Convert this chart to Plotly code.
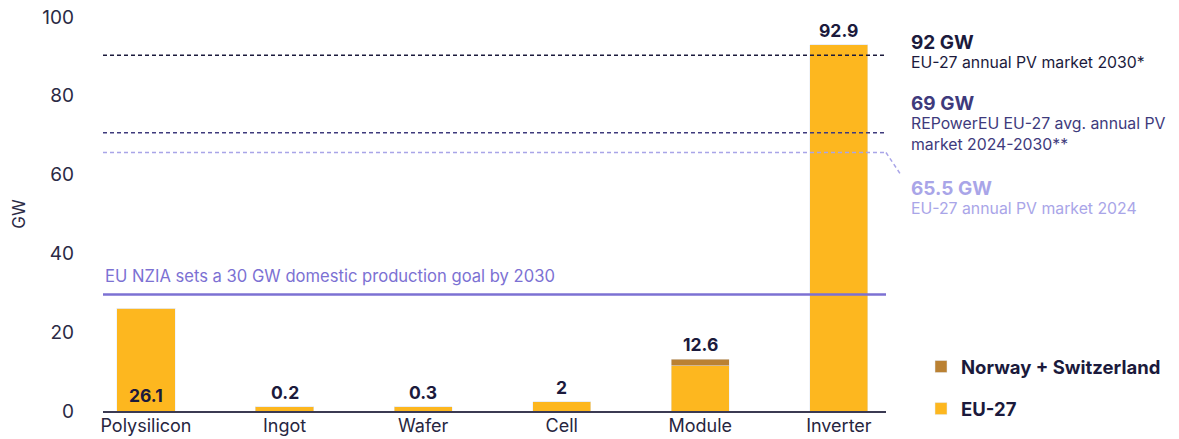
import plotly.graph_objects as go

# ---------------- data ----------------
categories = ["Polysilicon", "Ingot", "Wafer", "Cell", "Module", "Inverter"]
eu27 = [26.1, 1.1, 1.1, 2.4, 11.5, 92.9]          # bar heights as drawn
norway_switzerland = [0, 0, 0, 0, 1.6, 0]
value_labels = ["26.1", "0.2", "0.3", "2", "12.6", "92.9"]

ref_values = [90.3, 70.6, 65.6]                    # dashed reference lines (as drawn)
ref_titles = ["92 GW", "69 GW", "65.5 GW"]
ref_subtitles = ["EU-27 annual PV market 2030*",
                 "REPowerEU EU-27 avg. annual PV<br>market 2024-2030**",
                 "EU-27 annual PV market 2024"]
ref_colors = ["#1b1a3c", "#3e3a7c", "#a9a5e8"]

nzia_value = 29.6
nzia_label = "EU NZIA sets a 30 GW domestic production goal by 2030"

y_ticks = [0, 20, 40, 60, 80, 100]

# ---------------- styling ----------------
FONT = "Inter"
DARK = "#1b1a3c"
YELLOW = "#fdb71f"
BROWN = "#ba8133"
PURPLE = "#7c71d3"

OFF = 0  # page body margin removed via post_script
W, H = 1179 - OFF, 439 - OFF
L, T = 103 - OFF, 17 - OFF
R = W - (886 - OFF)
B = H - (411 - OFF)
pw, ph = W - L - R, H - T - B


def px_x(px):
    return (px - OFF - L) / pw


def px_y(py):
    return (H - B - (py - OFF)) / ph


fig = go.Figure()
fig.add_trace(go.Bar(x=categories, y=eu27, name="EU-27", marker_color=YELLOW,
                     width=0.42, legendgroup="eu", legendrank=2, hoverinfo="skip"))
fig.add_trace(go.Bar(x=categories, y=norway_switzerland, name="Norway + Switzerland",
                     marker_color=BROWN, width=0.42, legendgroup="no", legendrank=1,
                     hoverinfo="skip"))

# value labels
totals = [a + b for a, b in zip(eu27, norway_switzerland)]
for cat, tot, lab in zip(categories, totals, value_labels):
    inside = 20 < tot < 50
    fig.add_annotation(x=cat, y=0 if inside else tot, xref="x", yref="y",
                       text=f"<b>{lab}</b>", showarrow=False,
                       yanchor="bottom", yshift=3 if inside else 2,
                       font=dict(family=FONT, size=17.5, color=DARK))

# NZIA line
fig.add_shape(type="line", xref="paper", yref="y", x0=0, x1=1,
              y0=nzia_value, y1=nzia_value, line=dict(color=PURPLE, width=2.5))
fig.add_annotation(x=0, y=nzia_value, xref="paper", yref="y", text=nzia_label,
                   showarrow=False, xanchor="left", yanchor="bottom", yshift=6,
                   font=dict(family=FONT, size=16.6, color=PURPLE))

# dashed reference lines + right-hand labels
title_px = [42, 103, 188]
for v, t, s, c, ty in zip(ref_values, ref_titles, ref_subtitles, ref_colors, title_px):
    fig.add_shape(type="line", xref="paper", yref="y", x0=0, x1=1, y0=v, y1=v,
                  line=dict(color=c, width=1.5, dash="4px,3px"))
    fig.add_annotation(x=px_x(909), y=px_y(ty), xref="paper", yref="paper",
                       text=f"<b>{t}</b>", showarrow=False, xanchor="left",
                       yanchor="middle", font=dict(family=FONT, size=19, color=c))
    fig.add_annotation(x=px_x(909), y=px_y(ty + 9), xref="paper", yref="paper",
                       text=s, showarrow=False, xanchor="left", yanchor="top",
                       align="left", font=dict(family=FONT, size=15.8, color=c))

# elbow connector for the 65.5 GW line
v = ref_values[2]
fig.add_shape(type="line", xref="paper", yref="paper",
              x0=1, y0=v / 100, x1=px_x(901), y1=px_y(175),
              line=dict(color=ref_colors[2], width=1.5, dash="4px,3px"))

fig.update_layout(
    width=W, height=H,
    margin=dict(l=L, r=R, t=T, b=B, autoexpand=False),
    barmode="stack",
    plot_bgcolor="white", paper_bgcolor="white",
    font=dict(family=FONT, color=DARK),
    showlegend=True,
    legend=dict(x=px_x(921), y=px_y(348), xanchor="left", yanchor="top",
                traceorder="grouped", tracegroupgap=15,
                font=dict(family=FONT, size=18.5, color=DARK, weight="bold"),
                bgcolor="rgba(0,0,0,0)"),
    xaxis=dict(type="category", range=[-0.31, 5.34], showgrid=False,
               showline=True, linecolor="#3b3a52", linewidth=1.5,
               ticks="", ticklabelstandoff=-2,
               tickfont=dict(family=FONT, size=18, color="#27263f"),
               automargin=False, fixedrange=True),
    yaxis=dict(range=[0, 100], tickvals=y_ticks, showgrid=False, zeroline=False,
               showline=False, ticks="", ticklabelstandoff=28,
               ticklabeloverflow="allow",
               tickfont=dict(family=FONT, size=19, color="#2b2a45"),
               title=dict(text="GW", font=dict(family=FONT, size=17, color="#2b2a45"),
                          standoff=12),
               automargin=False, fixedrange=True),
)

fig.write_html("out.html",
               config={"displayModeBar": False},
               post_script="document.body.style.margin='0px';"
                           "document.body.style.overflow='hidden';")
